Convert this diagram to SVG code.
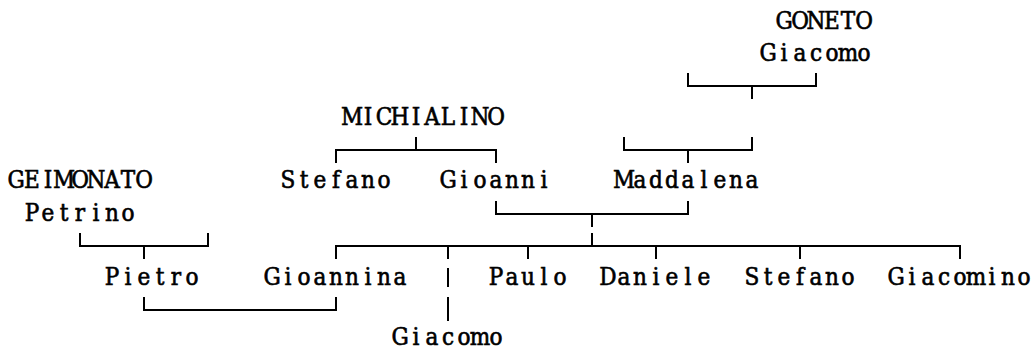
<svg xmlns="http://www.w3.org/2000/svg" width="1034" height="351" viewBox="0 0 1034 351">
<style>
text{font-family:"DejaVu Serif Condensed","DejaVu Serif","Liberation Serif",serif;font-stretch:condensed;font-size:24px;fill:#000;stroke:#000;stroke-width:0.6;text-anchor:middle}
.c path{stroke:#000;stroke-width:2;fill:none}
</style>
<rect width="1034" height="351" fill="#fff"/>
<g class="c" id="connectors">
<path d="M688,73V86H816V73M752,86V99"/>
<path d="M336,163V150H496V163M416,150V137"/>
<path d="M624,137V150H752V137M688,150V163"/>
<path d="M496,201V214H688V201M592,214V227"/>
<path d="M80,233V246H208V233M144,246V259"/>
<path d="M336,259V246H960V259M592,246V233M448,246V259M528,246V259M656,246V259M800,246V259"/>
<path d="M448,268V287M448,297V321"/>
<path d="M144,297V310H336V297"/>
</g>
<g id="goneto"><text x="784 800 816 832 848 864" y="29">GONETO</text><text x="768 784 800 816 832 848 864" y="61">Giacomo</text></g>
<g id="michialino"><text x="352 368 384 400 416 432 448 464 480 496" y="125">MICHIALINO</text></g>
<g id="geimonato"><text x="16 32 48 64 80 96 112 128 144" y="188">GEIMONATO</text><text x="32 48 64 80 96 112 128" y="221">Petrino</text></g>
<g id="stefano1"><text x="288 304 320 336 352 368 384" y="188">Stefano</text></g>
<g id="gioanni"><text x="448 464 480 496 512 528 544" y="188">Gioanni</text></g>
<g id="maddalena"><text x="624 640 656 672 688 704 720 736 752" y="188">Maddalena</text></g>
<g id="pietro"><text x="112 128 144 160 176 192" y="285">Pietro</text></g>
<g id="gioannina"><text x="272 288 304 320 336 352 368 384 400" y="285">Gioannina</text></g>
<g id="paulo"><text x="496 512 528 544 560" y="285">Paulo</text></g>
<g id="daniele"><text x="608 624 640 656 672 688 704" y="285">Daniele</text></g>
<g id="stefano2"><text x="752 768 784 800 816 832 848" y="285">Stefano</text></g>
<g id="giacomino"><text x="896 912 928 944 960 976 992 1008 1024" y="285">Giacomino</text></g>
<g id="giacomo2"><text x="400 416 432 448 464 480 496" y="345">Giacomo</text></g>
</svg>
